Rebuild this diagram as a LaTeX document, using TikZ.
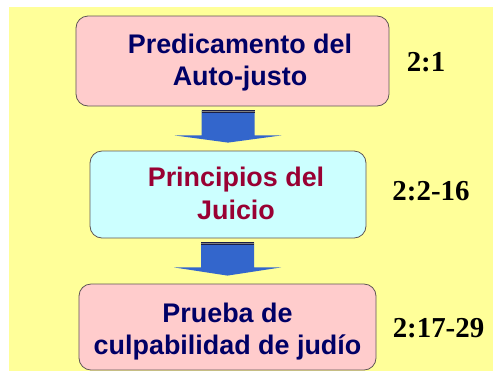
\documentclass[tikz,border=0pt]{standalone}
\usepackage{fontspec}
\setmainfont{Liberation Serif}
\setsansfont{Liberation Sans}
\usetikzlibrary{calc}

\definecolor{fondo}{RGB}{255,255,153}
\definecolor{rosa}{RGB}{255,204,204}
\definecolor{celeste}{RGB}{204,255,255}
\definecolor{azuloscuro}{RGB}{0,0,102}
\definecolor{granate}{RGB}{153,0,51}
\definecolor{flecha}{RGB}{51,102,204}
\definecolor{bordeflecha}{RGB}{25,30,70}
\definecolor{borde}{RGB}{95,85,85}

\tikzset{
  caja/.style={draw=borde, line width=0.8bp, rounded corners=12bp, inner sep=0pt},
  texto/.style={font=\sffamily\bfseries\fontsize{27}{33}\selectfont, align=center},
  cita/.style={font=\rmfamily\bfseries\fontsize{29}{33}\selectfont},
}

% flecha gruesa entre dos cajas
\newcommand{\flechabloque}[2]{%
  \coordinate (t) at ($(#1.south -| #2.north)+(0,4)$);
  \coordinate (p) at ($(#2.north)+(0,-8)$);
  \fill[flecha] ($(t)+(-26.5,0)$) -- ($(t)+(26.5,0)$) -- ($(t)+(26.5,25)$) -- ($(t)+(53.5,25)$)
    -- (p) -- ($(t)+(-53.5,25)$) -- ($(t)+(-26.5,25)$) -- cycle;
  \fill[bordeflecha] ($(t)+(-26.5,0)$) rectangle ($(t)+(26.5,3)$);
  \draw[gray, line width=0.6bp] ($(t)+(-26.5,1)$) -- ($(t)+(26.5,1)$);
}

\begin{document}
\begin{tikzpicture}[x=1bp, y=-1bp]
	\useasboundingbox (0,0) rectangle (493,371);
	\fill[fondo] (9,7) rectangle (493,371);
	% cajas
	\node[caja, fill=rosa, minimum width=313bp, minimum height=90bp] (pred) at (232.5,61) {};
	\node[caja, fill=celeste, minimum width=276bp, minimum height=87bp] (juic) at (228,194.5) {};
	\node[caja, fill=rosa, minimum width=297bp, minimum height=86bp] (prue) at (227.5,327) {};
	\node[texto, text=azuloscuro] (predtxt) at (240,62.5) {Predicamento del\\Auto-justo};
	\node[texto, text=granate] (juictxt) at (236,193.6) {Principios del\\Juicio};
	\node[texto, text=azuloscuro] (pruetxt) at (227.5,331.5) {Prueba de\\culpabilidad de judío};
	% flechas
	\flechabloque{pred}{juic}
	\flechabloque{juic}{prue}
	% citas
	\node[cita] (cita1) at (426,62) {2:1};
	\node[cita] (cita2) at (431,191) {2:2-16};
	\node[cita] (cita3) at (438.5,328) {2:17-29};
\end{tikzpicture}
\end{document}
